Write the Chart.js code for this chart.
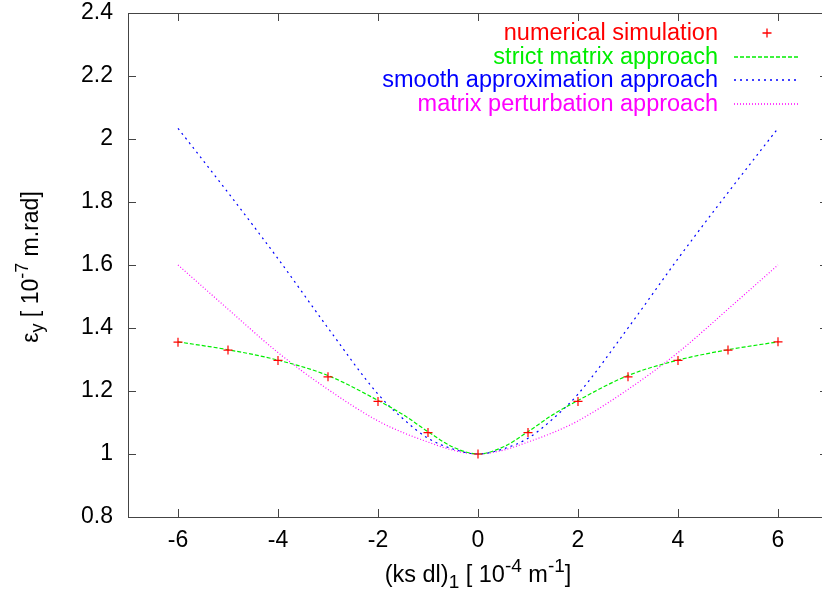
<!DOCTYPE html>
<html>
<head>
<meta charset="utf-8">
<script src="https://cdn.jsdelivr.net/npm/chart.js@4/dist/chart.umd.min.js"></script>
<style>
html,body{margin:0;padding:0;background:#fff;overflow:hidden;width:822px;height:594px;}
#wrap{width:836px;height:594px;position:relative;}
</style>
</head>
<body>
<div id="wrap"><canvas id="c"></canvas></div>
<script>
// ---- data ----
const simX = [-6,-5,-4,-3,-2,-1,0,1,2,3,4,5,6];
const simY = [1.355,1.330,1.297,1.245,1.167,1.068,1.000,1.068,1.167,1.245,1.297,1.330,1.356];

const curveX = [-6,-5,-4,-3,-2,-1.5,-1,-0.5,0,0.5,1,1.5,2,3,4,5,6];
const strictY = [1.356,1.331,1.298,1.249,1.170,1.125,1.071,1.022,1.000,1.022,1.071,1.125,1.170,1.249,1.298,1.331,1.356];
const smoothY = [2.034,1.830,1.620,1.400,1.190,1.112,1.050,1.016,1.000,1.016,1.050,1.112,1.190,1.400,1.620,1.830,2.034];
const perturbY = [1.600,1.460,1.322,1.205,1.105,1.068,1.038,1.012,1.000,1.012,1.038,1.068,1.105,1.205,1.322,1.460,1.600];

const xTicks = [-6,-4,-2,0,2,4,6];
const yTicks = [0.8,1.0,1.2,1.4,1.6,1.8,2.0,2.2,2.4];
const yTickLabels = ['0.8','1','1.2','1.4','1.6','1.8','2','2.2','2.4'];

const labels = ['numerical simulation','strict matrix approach','smooth approximation approach','matrix perturbation approach'];

const FONT = '"Liberation Sans", Arial, sans-serif';
const toPts = (xs, ys) => xs.map((x,i)=>({x:x, y:ys[i]}));

// rich text helper: segments [[text, 'n'|'sub'|'sup']]
function richWidth(ctx, segs, size){
  let w=0;
  for(const [t,k] of segs){
    ctx.font = (k==='n'? size : Math.round(size*0.8)) + 'px ' + FONT;
    w += ctx.measureText(t).width;
  }
  return w;
}
function drawRich(ctx, segs, size, x, y){
  let cx = x;
  for(const [t,k] of segs){
    const s = k==='n'? size : Math.round(size*0.8);
    ctx.font = s + 'px ' + FONT;
    let dy = 0;
    if(k==='sub') dy = size*0.28;
    if(k==='sup') dy = -size*0.38;
    ctx.fillText(t, cx, y+dy);
    cx += ctx.measureText(t).width;
  }
}

const framePlugin = {
  id:'frame',
  afterDraw(chart){
    const {ctx, chartArea:a, scales:{x, y}} = chart;
    ctx.save();
    ctx.setLineDash([]);
    ctx.strokeStyle = '#444';
    ctx.lineWidth = 1;
    ctx.beginPath();
    ctx.rect(Math.round(a.left)+0.5, Math.round(a.top)+0.5, Math.round(a.right-a.left), Math.round(a.bottom-a.top));
    ctx.stroke();
    const TL = 8;
    ctx.beginPath();
    for(const v of xTicks){
      const px = Math.round(x.getPixelForValue(v))+0.5;
      ctx.moveTo(px, a.bottom); ctx.lineTo(px, a.bottom-TL);
      ctx.moveTo(px, a.top); ctx.lineTo(px, a.top+TL);
    }
    for(const v of yTicks){
      const py = Math.round(y.getPixelForValue(v))+0.5;
      ctx.moveTo(a.left, py); ctx.lineTo(a.left+TL, py);
      ctx.moveTo(a.right, py); ctx.lineTo(a.right-TL, py);
    }
    ctx.stroke();

    // axis titles
    ctx.fillStyle = '#000';
    ctx.textBaseline = 'middle';
    ctx.textAlign = 'left';
    const xs = [['(ks dl)','n'],['1','sub'],[' [ 10','n'],['-4','sup'],[' m','n'],['-1','sup'],[']','n']];
    const wX = richWidth(ctx, xs, 23.5);
    drawRich(ctx, xs, 23.5, 478 - wX/2, 576);
    const ys = [['\u03b5','n'],['y','sub'],[' [ 10','n'],['-7','sup'],[' m.rad]','n']];
    const wY = richWidth(ctx, ys, 23);
    ctx.save();
    ctx.translate(32, (a.top+a.bottom)/2 + 2);
    ctx.rotate(-Math.PI/2);
    drawRich(ctx, ys, 23, -wY/2, 0);
    ctx.restore();

    // legend
    const ds = chart.data.datasets;
    const rowY = [33, 57, 80, 104];
    ctx.font = '23.5px ' + FONT;
    ctx.textAlign = 'right';
    for(let i=0;i<ds.length;i++){
      const d = ds[i];
      ctx.fillStyle = d.borderColor;
      ctx.fillText(d.label, 718, rowY[i]+1);
      ctx.strokeStyle = d.borderColor;
      ctx.lineWidth = 1.3;
      if(i===0){
        ctx.setLineDash([]);
        ctx.beginPath();
        ctx.moveTo(767-4.5, rowY[i]); ctx.lineTo(767+4.5, rowY[i]);
        ctx.moveTo(767, rowY[i]-4.5); ctx.lineTo(767, rowY[i]+4.5);
        ctx.stroke();
      } else {
        ctx.setLineDash(d.borderDash);
        ctx.beginPath();
        ctx.moveTo(734, rowY[i]); ctx.lineTo(800, rowY[i]);
        ctx.stroke();
        ctx.setLineDash([]);
      }
    }
    ctx.restore();
  }
};

new Chart(document.getElementById('c'), {
  type:'scatter',
  data:{
    datasets:[
      {label:labels[0], data:toPts(simX, simY), showLine:false, borderColor:'#ff0000', backgroundColor:'#ff0000',
       pointStyle:'cross', pointRadius:4.5, pointBorderWidth:1.2, pointHoverRadius:4.5, order:0},
      {label:labels[1], data:toPts(curveX, strictY), showLine:true, borderColor:'#00ee00', borderWidth:1.2,
       borderDash:[4,2], pointRadius:0, cubicInterpolationMode:'monotone', fill:false, order:1},
      {label:labels[2], data:toPts(curveX, smoothY), showLine:true, borderColor:'#0000ff', borderWidth:1.2,
       borderDash:[2,4], pointRadius:0, cubicInterpolationMode:'monotone', fill:false, order:2},
      {label:labels[3], data:toPts(curveX, perturbY), showLine:true, borderColor:'#ff00ff', borderWidth:1.2,
       borderDash:[1,2], pointRadius:0, cubicInterpolationMode:'monotone', fill:false, order:3}
    ]
  },
  options:{
    responsive:true, maintainAspectRatio:false, animation:false,
    layout:{padding:{top:13, right:8, left:0, bottom:0}},
    plugins:{legend:{display:false}, tooltip:{enabled:false}},
    scales:{
      x:{type:'linear', min:-7, max:7,
         afterBuildTicks(s){ s.ticks = xTicks.map(v=>({value:v})); },
         afterFit(s){ s.height = 77; s.paddingLeft = 0; s.paddingRight = 0; },
         grid:{display:false, drawTicks:false}, border:{display:false},
         ticks:{color:'#000', font:{family:FONT, size:23}, padding:10, maxRotation:0, autoSkip:false,
                callback:(v)=>String(v)}},
      y:{type:'linear', min:0.8, max:2.4,
         afterBuildTicks(s){ s.ticks = yTicks.map(v=>({value:v})); },
         afterFit(s){ s.width = 128; s.paddingTop = 0; s.paddingBottom = 0; },
         grid:{display:false, drawTicks:false}, border:{display:false},
         ticks:{color:'#000', font:{family:FONT, size:23}, padding:15, autoSkip:false,
                callback:(v)=>{ const i = yTicks.findIndex(t=>Math.abs(t-v)<1e-9); return i>=0? yTickLabels[i] : ''; }}}
    }
  },
  plugins:[framePlugin]
});
</script>
</body>
</html>
